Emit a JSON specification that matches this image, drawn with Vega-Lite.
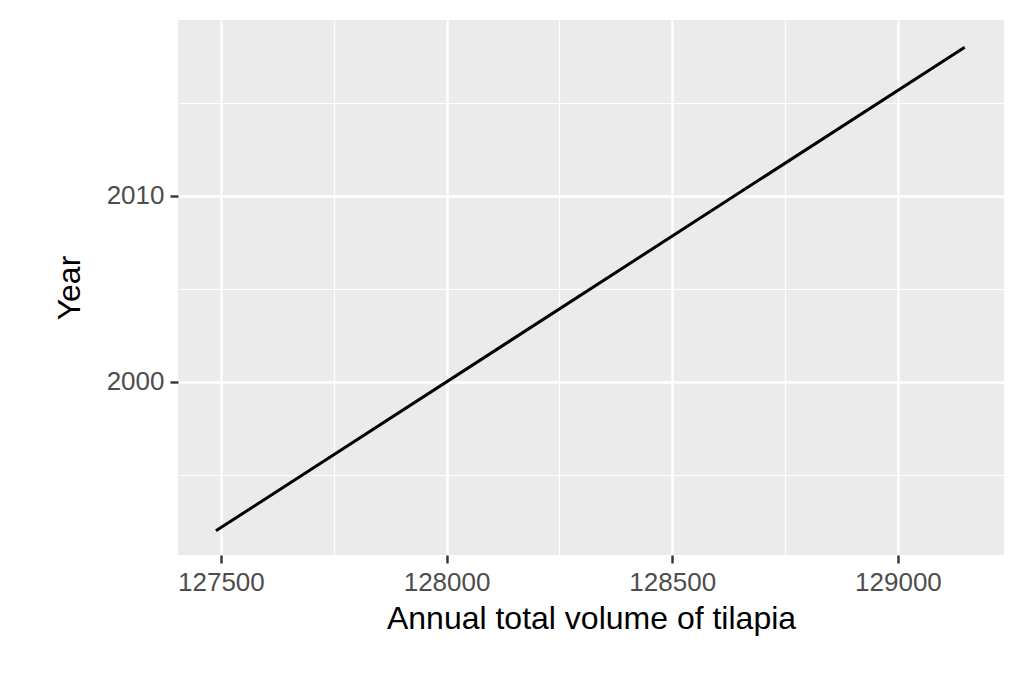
{
  "$schema": "https://vega.github.io/schema/vega-lite/v6.json",
  "autosize": {"type": "none"},
  "padding": {"left": 178, "top": 20, "right": 23, "bottom": 130},
  "width": 826,
  "height": 535,
  "background": "white",
  "data": {"values": [
    {"volume": 127489, "year": 1992},
    {"volume": 129148, "year": 2018}
  ]},
  "mark": {"type": "line", "color": "black", "strokeWidth": 3, "clip": true},
  "encoding": {
    "x": {
      "field": "volume", "type": "quantitative",
      "title": "Annual total volume of tilapia",
      "scale": {"domain": [127405, 129235], "nice": false, "zero": false},
      "axis": {
        "values": [127500, 127750, 128000, 128250, 128500, 128750, 129000],
        "labelExpr": "datum.value % 500 === 0 ? datum.value : ''",
        "gridWidth": {"condition": {"test": "datum.value % 500 === 0", "value": 2.4}, "value": 1.2},
        "tickOpacity": {"condition": {"test": "datum.value % 500 === 0", "value": 1}, "value": 0},
        "format": "d",
        "domain": false,
        "labelFontSize": 26,
        "titleFontSize": 32,
        "labelPadding": 6,
        "titlePadding": 8
      }
    },
    "y": {
      "field": "year", "type": "quantitative",
      "title": "Year",
      "scale": {"domain": [1990.7, 2019.46], "nice": false, "zero": false},
      "axis": {
        "values": [1995, 2000, 2005, 2010, 2015],
        "labelExpr": "datum.value % 10 === 0 ? datum.value : ''",
        "gridWidth": {"condition": {"test": "datum.value % 10 === 0", "value": 2.4}, "value": 1.2},
        "tickOpacity": {"condition": {"test": "datum.value % 10 === 0", "value": 1}, "value": 0},
        "format": "d",
        "domain": false,
        "labelFontSize": 26,
        "titleFontSize": 32,
        "labelPadding": 6,
        "titlePadding": 20
      }
    }
  },
  "config": {
    "view": {"fill": "#ebebeb", "stroke": null},
    "axis": {
      "gridColor": "white",
      "tickColor": "#333333",
      "tickWidth": 2.4,
      "tickSize": 8,
      "labelFont": "Liberation Sans",
      "labelColor": "#4d4d4d",
      "titleFont": "Liberation Sans",
      "titleFontWeight": "normal",
      "titleColor": "black"
    }
  }
}
